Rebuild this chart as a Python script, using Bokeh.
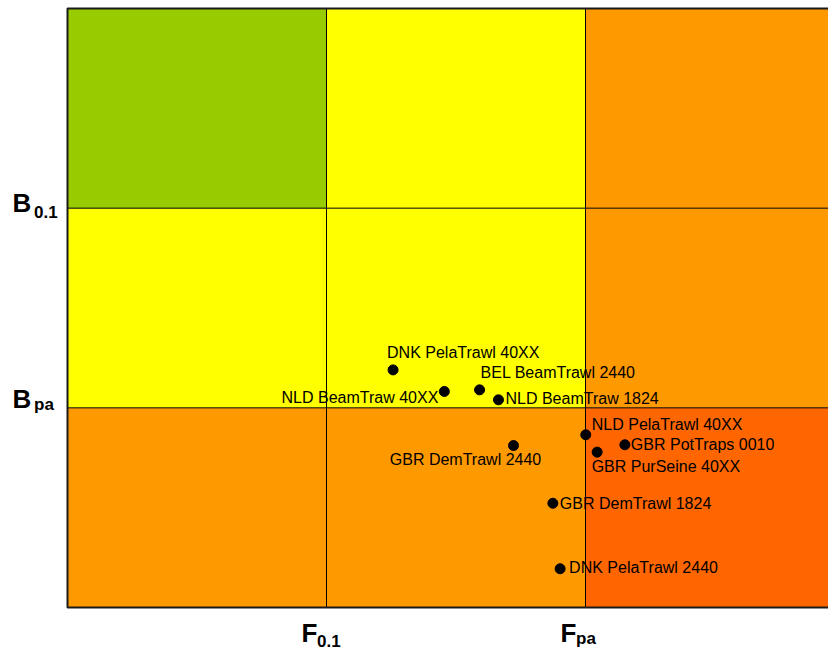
from bokeh.plotting import figure
from bokeh.models import ColumnDataSource, Range1d
from bokeh.embed import file_html
from bokeh.resources import INLINE
from bokeh.core.properties import value

# ---- data -------------------------------------------------------------
# axis limits (reference points: F0.1 = 1, Fpa = 2 ; Bpa = 1, B0.1 = 2)
x_lim = [0, 3]
y_lim = [0, 3]
x_ticks = [1, 2]
x_tick_main = ["F", "F"]
x_tick_sub = ["0.1", "pa"]
y_ticks = [2, 1]
y_tick_main = ["B", "B"]
y_tick_sub = ["0.1", "pa"]

# background zones (rows bottom->top, cols left->right)
zone_left   = [0, 1, 2, 0, 1, 2, 0, 1, 2]
zone_right  = [1, 2, 3, 1, 2, 3, 1, 2, 3]
zone_bottom = [0, 0, 0, 1, 1, 1, 2, 2, 2]
zone_top    = [1, 1, 1, 2, 2, 2, 3, 3, 3]
zone_color  = ["#FF9900", "#FF9900", "#FF6600",
               "#FFFF00", "#FFFF00", "#FF9900",
               "#99CC00", "#FFFF00", "#FF9900"]

fleet = ["DNK PelaTrawl 40XX", "NLD BeamTraw 40XX", "BEL BeamTrawl 2440",
         "NLD BeamTraw 1824", "GBR DemTrawl 2440", "NLD PelaTrawl 40XX",
         "GBR PotTraps 0010", "GBR PurSeine 40XX", "GBR DemTrawl 1824",
         "DNK PelaTrawl 2440"]
f_val = [1.257, 1.455, 1.591, 1.664, 1.722, 2.001, 2.152, 2.045, 1.874, 1.902]
b_val = [1.190, 1.082, 1.090, 1.040, 0.811, 0.865, 0.815, 0.778, 0.522, 0.194]

# ---- layout / style ---------------------------------------------------
W, H = 828, 651
FRAME_L, FRAME_T, FRAME_B = 67, 8, 607   # pixel position of the plotting box
UX = 259.0                               # px per x unit
UY = (FRAME_B - FRAME_T) / (y_lim[1] - y_lim[0])

lab_dx    = [-6, -6, 1, 7, -48, 6, 6, -5.5, 7, 9]
lab_dy    = [-17.5, 6, -17.5, -1.5, 13.5, -10.5, -0.5, 14.5, 0, -1]
lab_align = ["left", "right", "left", "left", "center", "left", "left",
             "left", "left", "left"]

FONT = "Liberation Sans"

p = figure(width=W, height=H, output_backend="svg", toolbar_location=None,
           x_range=Range1d(x_lim[0] - FRAME_L / UX, x_lim[0] + (W - FRAME_L) / UX),
           y_range=Range1d(y_lim[0] - (H - FRAME_B) / UY, y_lim[1] + FRAME_T / UY),
           x_axis_location=None, y_axis_location=None,
           min_border=0, min_border_left=0, min_border_right=0,
           min_border_top=0, min_border_bottom=0)
p.xgrid.visible = False
p.ygrid.visible = False
p.outline_line_color = None
p.background_fill_color = "white"
p.border_fill_color = "white"

zones = ColumnDataSource(dict(left=zone_left, right=zone_right,
                              bottom=zone_bottom, top=zone_top, color=zone_color))
p.quad(left="left", right="right", bottom="bottom", top="top",
       fill_color="color", line_color=None, source=zones)

# reference lines
p.segment(x0=x_ticks, y0=[y_lim[0]] * len(x_ticks), x1=x_ticks,
          y1=[y_lim[1]] * len(x_ticks), line_color="black", line_width=1)
p.segment(x0=[x_lim[0]] * len(y_ticks), y0=y_ticks, x1=[x_lim[1]] * len(y_ticks),
          y1=y_ticks, line_color="black", line_width=1)

# plot box border
p.quad(left=[x_lim[0]], right=[x_lim[1]], bottom=[y_lim[0]], top=[y_lim[1]],
       fill_color=None, line_color="#1a1a1a", line_width=2)

pts = ColumnDataSource(dict(x=f_val, y=b_val, name=fleet, dx=lab_dx, dy=lab_dy,
                            align=lab_align))
p.scatter("x", "y", size=10, color="black", source=pts)
p.text("x", "y", text="name", x_offset="dx", y_offset="dy", text_align="align",
       text_baseline="alphabetic", text_font=value(FONT),
       text_font_size="16px", text_color="black", source=pts)

# tick labels with subscripts
xt = ColumnDataSource(dict(x=x_ticks, y=[y_lim[0]] * len(x_ticks), main=x_tick_main,
                           sub=x_tick_sub, sdy=[33.7, 30.5]))
p.text("x", "y", text="main", x_offset=-25, y_offset=25.7, text_align="left",
       text_baseline="alphabetic", text_font=value(FONT), text_font_style="bold",
       text_font_size="26px", text_color="black", source=xt)
p.text("x", "y", text="sub", x_offset=-9.5, y_offset="sdy", text_align="left",
       text_baseline="alphabetic", text_font=value(FONT), text_font_style="bold",
       text_font_size="17px", text_color="black", source=xt)

yt = ColumnDataSource(dict(x=[x_lim[0]] * len(y_ticks), y=y_ticks, main=y_tick_main,
                           sub=y_tick_sub, mdy=[-5, -9], sdy=[4, -3.5]))
p.text("x", "y", text="main", x_offset=-55, y_offset="mdy", text_align="left",
       text_baseline="alphabetic", text_font=value(FONT), text_font_style="bold",
       text_font_size="26px", text_color="black", source=yt)
p.text("x", "y", text="sub", x_offset=-33.5, y_offset="sdy", text_align="left",
       text_baseline="alphabetic", text_font=value(FONT), text_font_style="bold",
       text_font_size="17px", text_color="black", source=yt)

open("out.html", "w").write(file_html(p, INLINE))
